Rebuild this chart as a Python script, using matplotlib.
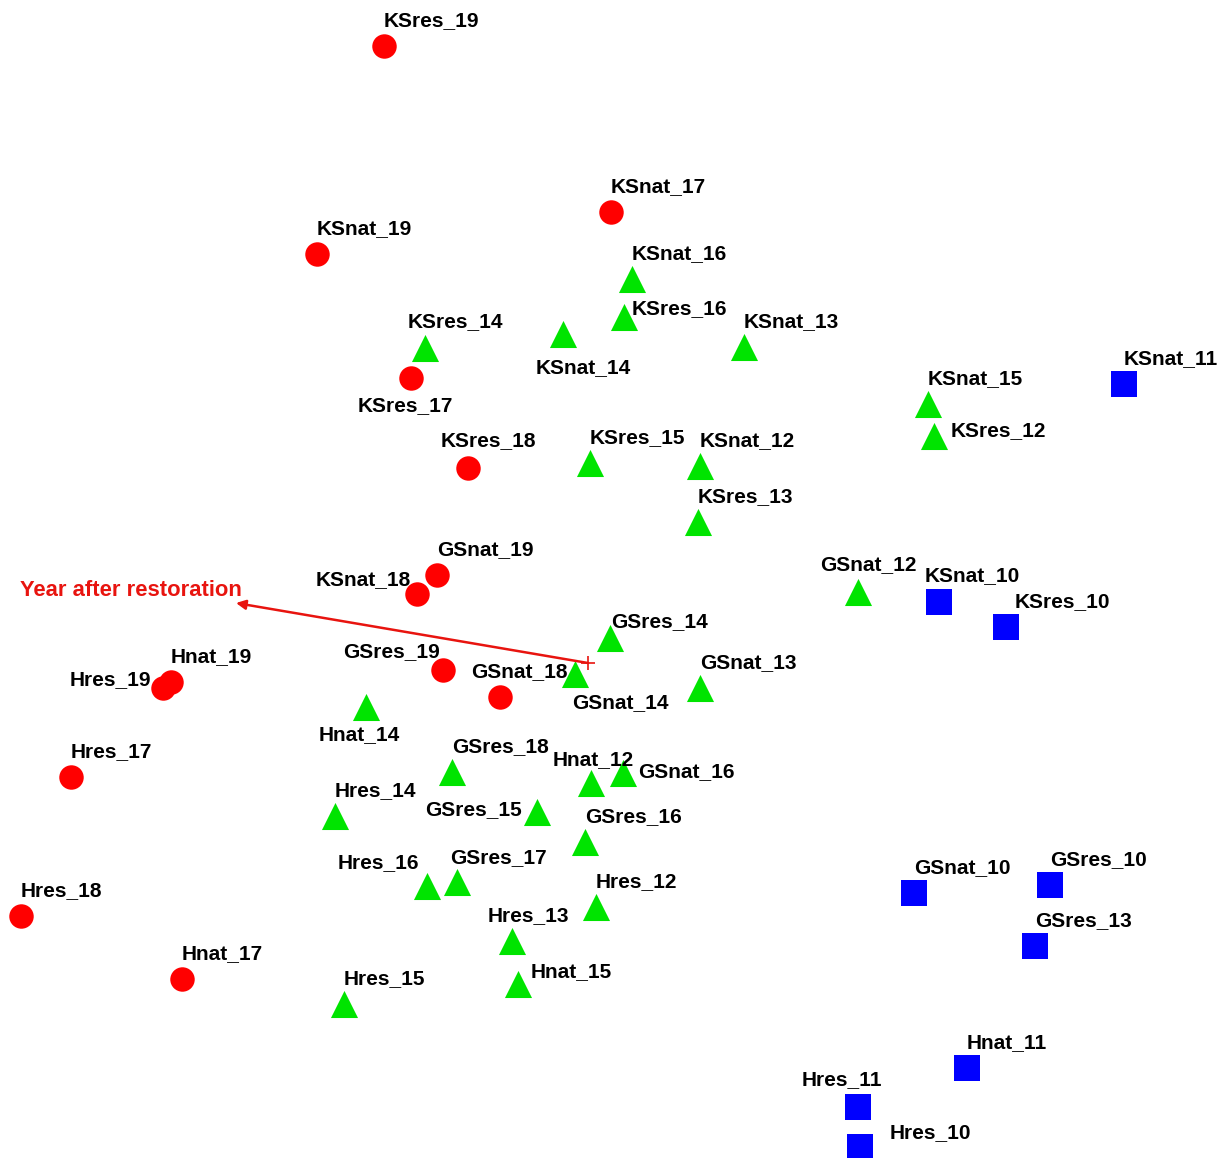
# Ordenación de sitios (NMDS) con vector "Year after restoration"

import matplotlib.pyplot as plt
import numpy as np

plt.rcParams['font.family'] = ['Liberation Sans', 'DejaVu Sans']

# Sitios del grupo 1 (círculos rojos)
nombres_rojo = ['KSres_19', 'KSnat_17', 'KSnat_19', 'KSres_17', 'KSres_18', 'GSnat_19',
                'KSnat_18', 'GSres_19', 'GSnat_18', 'Hnat_19', 'Hres_19', 'Hres_17',
                'Hres_18', 'Hnat_17']
x_rojo = [384, 611, 317, 411, 468, 437, 417, 443, 500, 171, 163, 71, 21, 182]
y_rojo = [46, 212, 254, 378, 468, 575, 594, 670, 697, 682, 688, 777, 916, 979]

# Sitios del grupo 2 (triángulos verdes)
nombres_verde = ['KSnat_16', 'KSres_16', 'KSres_14', 'KSnat_14', 'KSnat_13', 'KSnat_15',
                 'KSres_12', 'KSres_15', 'KSnat_12', 'KSres_13', 'GSnat_12', 'GSres_14',
                 'GSnat_13', 'GSnat_14', 'Hnat_14', 'GSres_18', 'Hnat_12', 'GSnat_16',
                 'Hres_14', 'GSres_15', 'GSres_16', 'Hres_16', 'GSres_17', 'Hres_12',
                 'Hres_13', 'Hnat_15', 'Hres_15']
x_verde = [632, 624, 425, 563, 744, 928, 934, 590, 700, 698, 858, 610,
           700, 575, 366, 452, 591, 623, 335, 537, 585, 427, 457, 596,
           512, 518, 344]
y_verde = [279, 317, 348, 334, 347, 404, 436, 463, 466, 522, 592, 638,
           688, 674, 707, 772, 783, 773, 816, 812, 842, 886, 882, 907,
           941, 984, 1004]

# Sitios del grupo 3 (cuadrados azules)
nombres_azul = ['KSnat_11', 'KSnat_10', 'KSres_10', 'GSnat_10', 'GSres_10', 'GSres_13',
                'Hnat_11', 'Hres_11', 'Hres_10']
x_azul = [1124, 939, 1006, 914, 1050, 1035, 967, 858, 860]
y_azul = [384, 602, 627, 893, 885, 946, 1068, 1107, 1147]

# Vector ajustado (origen -> punta)
vector_origen = (588, 663)
vector_punta = (236, 603)
vector_nombre = 'Year after restoration'

# Desplazamiento de cada etiqueta respecto a su punto (dx, dy, alineación)
posicion_etiqueta = {
    'KSres_17': (-53, 28, 'left'), 'KSres_18': (-27, -27, 'left'),
    'KSnat_18': (-6, -14, 'right'), 'GSres_19': (-3, -18, 'right'),
    'GSnat_18': (-29, -25, 'left'), 'Hres_19': (-12, -8, 'right'),
    'KSres_16': (8, -8, 'left'), 'KSres_14': (-17, -26, 'left'),
    'KSnat_14': (-27, 34, 'left'), 'KSres_12': (17, -5, 'left'),
    'GSnat_12': (-38, -27, 'left'), 'GSres_14': (1, -16, 'left'),
    'GSnat_14': (-3, 29, 'left'), 'Hnat_14': (-47, 28, 'left'),
    'Hnat_12': (-38, -23, 'left'), 'GSnat_16': (15, -1, 'left'),
    'GSres_15': (-15, -2, 'right'), 'Hres_16': (-8, -23, 'right'),
    'GSres_17': (-7, -24, 'left'), 'Hres_13': (-24, -25, 'left'),
    'Hnat_15': (13, -12, 'left'), 'KSnat_10': (-14, -26, 'left'),
    'KSres_10': (9, -25, 'left'), 'Hres_11': (-56, -27, 'left'),
    'Hres_10': (30, -14, 'left'),
}

fig = plt.figure(figsize=(12.22, 11.58), dpi=100)
ax = fig.add_axes([0, 0, 1, 1])

grupos = [
    (nombres_rojo, x_rojo, y_rojo, 'o', '#FF0000', 310),
    (nombres_verde, x_verde, y_verde, '^', '#00E400', 380),
    (nombres_azul, x_azul, y_azul, 's', '#0000FF', 340),
]

for nombres, xs, ys, marcador, color, tam in grupos:
    ax.scatter(xs, ys, marker=marcador, s=tam, color=color, linewidths=0, zorder=3)
    for nombre, x, y in zip(nombres, xs, ys):
        dx, dy, ha = posicion_etiqueta.get(nombre, (0, -25, 'left'))
        ax.text(x + dx, y + dy, nombre, ha=ha, va='center', fontsize=15,
                fontweight='bold', color='black', zorder=4)

# Vector
ax.annotate('', xy=vector_punta, xytext=vector_origen,
            arrowprops=dict(arrowstyle='-|>', color='#E8140F', lw=1.8,
                            mutation_scale=14, shrinkA=0, shrinkB=0), zorder=5)
ax.plot(*vector_origen, marker='+', color='#E8140F', markersize=10, mew=1.2, zorder=5)
ax.text(vector_punta[0] + 6, vector_punta[1] - 13, vector_nombre, ha='right', va='center',
        fontsize=15.8, fontweight='bold', color='#E8140F')

ax.set_xlim(0, 1222)
ax.set_ylim(1158, 0)
ax.axis('off')

fig.savefig('out.png', dpi=100, facecolor='white')
